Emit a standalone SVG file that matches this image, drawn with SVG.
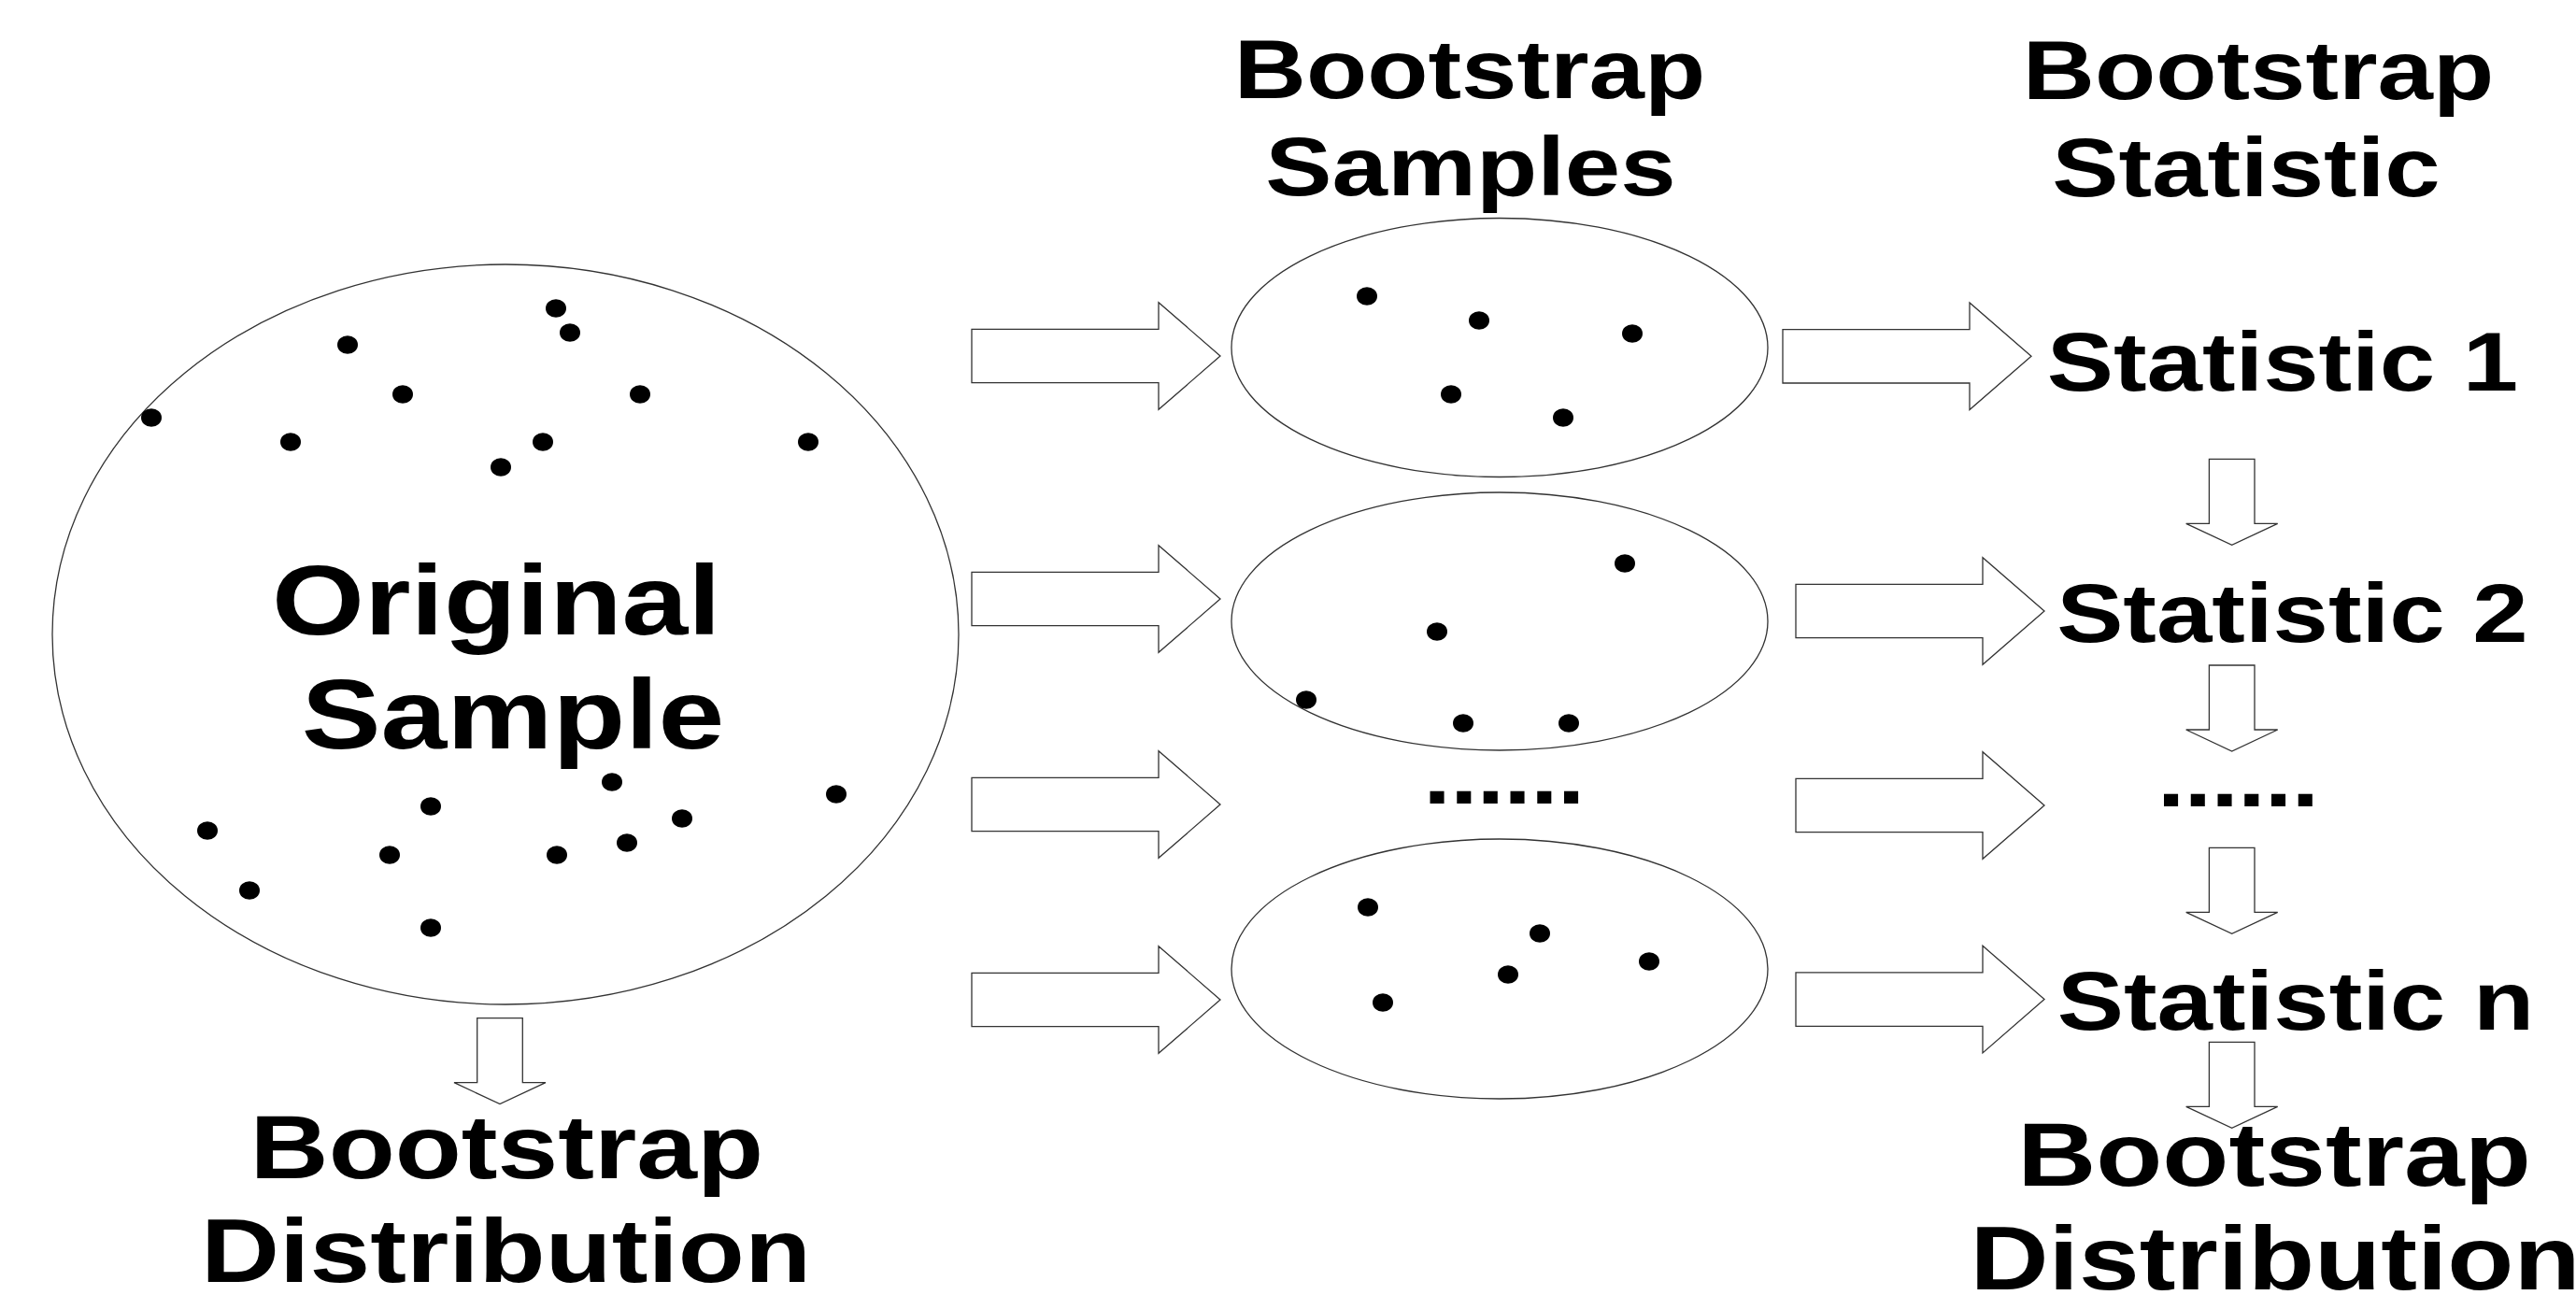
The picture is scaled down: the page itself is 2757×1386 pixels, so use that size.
<svg xmlns="http://www.w3.org/2000/svg" xmlns:xlink="http://www.w3.org/1999/xlink" width="2757" height="1386" viewBox="0 0 2757 1386">
  <style>
    .outline { fill: #ffffff; stroke: #333333; stroke-width: 1.3; }
    .arrow { fill: #ffffff; stroke: #333333; stroke-width: 1.3; stroke-linejoin: miter; }
    .dot { fill: #000000; }
    .label { font-family: "Liberation Sans", Arial, "DejaVu Sans", sans-serif; font-weight: bold; fill: #000000; text-anchor: middle; }
    .col { font-size: 89px; }
    .big { font-size: 106px; }
    .dist { font-size: 97px; }
    .ellipsis { font-size: 89px; letter-spacing: -0.8px; }
  </style>
  <defs>
    <!-- block arrow pointing right, tail at origin -->
    <polygon id="arrow-right" points="0,-28.7 200,-28.7 200,-57.3 266,0 200,57.3 200,28.7 0,28.7"/>
    <!-- block arrow pointing down, tail centre at origin -->
    <polygon id="arrow-down" points="-24.3,0 24.3,0 24.3,69 49,69 0,92 -49,69 -24.3,69"/>
    <ellipse id="dot" cx="0" cy="0" rx="11" ry="9.8"/>
  </defs>

  <rect x="0" y="0" width="2757" height="1386" fill="#ffffff"/>

  <!-- original sample -->
  <g id="original-sample">
    <ellipse class="outline" cx="541" cy="679" rx="485" ry="396"/>
    <g class="dot">
      <use xlink:href="#dot" x="595" y="330"/>
      <use xlink:href="#dot" x="610" y="356"/>
      <use xlink:href="#dot" x="372" y="369"/>
      <use xlink:href="#dot" x="431" y="422"/>
      <use xlink:href="#dot" x="685" y="422"/>
      <use xlink:href="#dot" x="162" y="447"/>
      <use xlink:href="#dot" x="311" y="473"/>
      <use xlink:href="#dot" x="581" y="473"/>
      <use xlink:href="#dot" x="865" y="473"/>
      <use xlink:href="#dot" x="536" y="500"/>
      <use xlink:href="#dot" x="655" y="837"/>
      <use xlink:href="#dot" x="461" y="863"/>
      <use xlink:href="#dot" x="895" y="850"/>
      <use xlink:href="#dot" x="222" y="889"/>
      <use xlink:href="#dot" x="730" y="876"/>
      <use xlink:href="#dot" x="417" y="915"/>
      <use xlink:href="#dot" x="596" y="915"/>
      <use xlink:href="#dot" x="671" y="902"/>
      <use xlink:href="#dot" x="267" y="953"/>
      <use xlink:href="#dot" x="461" y="993"/>
    </g>
    <text class="label big" transform="translate(531.4,679) scale(1.2,1)">Original</text>
    <text class="label big" transform="translate(549,801.3) scale(1.2,1)">Sample</text>
  </g>

  <!-- column headers -->
  <g id="header-samples">
    <text class="label col" transform="translate(1573,104.5) scale(1.2,1)">Bootstrap</text>
    <text class="label col" transform="translate(1574,208.6) scale(1.2,1)">Samples</text>
  </g>
  <g id="header-statistic">
    <text class="label col" transform="translate(2417,106) scale(1.2,1)">Bootstrap</text>
    <text class="label col" transform="translate(2404,209.5) scale(1.2,1)">Statistic</text>
  </g>

  <!-- resampled sets -->
  <g id="sample-1">
    <ellipse class="outline" cx="1605" cy="372" rx="287" ry="138.5"/>
    <g class="dot">
      <use xlink:href="#dot" x="1463" y="317"/>
      <use xlink:href="#dot" x="1583" y="343"/>
      <use xlink:href="#dot" x="1747" y="357"/>
      <use xlink:href="#dot" x="1553" y="422"/>
      <use xlink:href="#dot" x="1673" y="447"/>
    </g>
  </g>
  <g id="sample-2">
    <ellipse class="outline" cx="1605" cy="665" rx="287" ry="138"/>
    <g class="dot">
      <use xlink:href="#dot" x="1739" y="603"/>
      <use xlink:href="#dot" x="1538" y="676"/>
      <use xlink:href="#dot" x="1398" y="749"/>
      <use xlink:href="#dot" x="1566" y="774"/>
      <use xlink:href="#dot" x="1679" y="774"/>
    </g>
  </g>
  <g id="sample-more">
    <text class="label ellipsis" transform="translate(1609.3,860) scale(1.2,1)">......</text>
  </g>
  <g id="sample-n">
    <ellipse class="outline" cx="1605" cy="1037" rx="287" ry="139"/>
    <g class="dot">
      <use xlink:href="#dot" x="1464" y="971"/>
      <use xlink:href="#dot" x="1648" y="999"/>
      <use xlink:href="#dot" x="1765" y="1029"/>
      <use xlink:href="#dot" x="1614" y="1043"/>
      <use xlink:href="#dot" x="1480" y="1073"/>
    </g>
  </g>

  <!-- statistics -->
  <g id="statistic-1">
    <text class="label col" transform="translate(2443,417.7) scale(1.2,1)">Statistic 1</text>
  </g>
  <g id="statistic-2">
    <text class="label col" transform="translate(2453.4,686.8) scale(1.2,1)">Statistic 2</text>
  </g>
  <g id="statistic-more">
    <text class="label ellipsis" transform="translate(2395,863) scale(1.2,1)">......</text>
  </g>
  <g id="statistic-n">
    <text class="label col" transform="translate(2457,1101.8) scale(1.2,1)">Statistic n</text>
  </g>

  <!-- distributions -->
  <g id="distribution-left">
    <text class="label dist" transform="translate(542.4,1260.5) scale(1.2,1)">Bootstrap</text>
    <text class="label dist" transform="translate(541.5,1371.7) scale(1.2,1)">Distribution</text>
  </g>
  <g id="distribution-right">
    <text class="label dist" transform="translate(2434,1269.4) scale(1.2,1)">Bootstrap</text>
    <text class="label dist" transform="translate(2435,1380) scale(1.2,1)">Distribution</text>
  </g>

  <!-- connectors -->
  <g id="connectors" class="arrow">
    <use xlink:href="#arrow-right" x="1040" y="381"/>
    <use xlink:href="#arrow-right" x="1040" y="641"/>
    <use xlink:href="#arrow-right" x="1040" y="861"/>
    <use xlink:href="#arrow-right" x="1040" y="1070"/>

    <use xlink:href="#arrow-right" x="1908" y="381.3"/>
    <use xlink:href="#arrow-right" x="1922" y="654"/>
    <use xlink:href="#arrow-right" x="1922" y="862"/>
    <use xlink:href="#arrow-right" x="1922" y="1069.6"/>

    <use xlink:href="#arrow-down" x="2388.7" y="491.4"/>
    <use xlink:href="#arrow-down" x="2388.7" y="712"/>
    <use xlink:href="#arrow-down" x="2388.7" y="907.3"/>
    <use xlink:href="#arrow-down" x="2388.7" y="1115.3"/>

    <use xlink:href="#arrow-down" x="535" y="1089.6"/>
  </g>
</svg>
